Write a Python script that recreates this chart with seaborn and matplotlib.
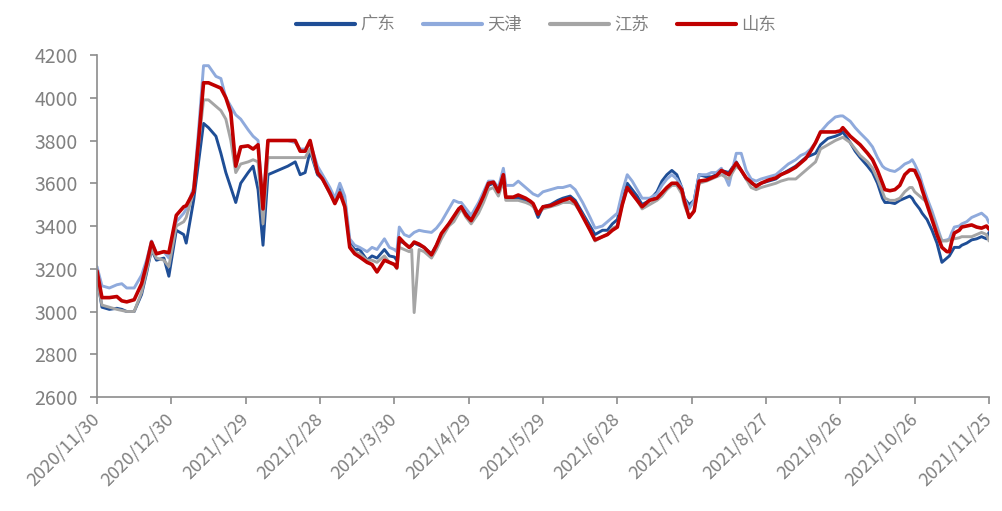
import numpy as np
import pandas as pd
import matplotlib
matplotlib.use("Agg")
import matplotlib.pyplot as plt
import seaborn as sns

# ---------------- data ----------------
start_date = "2020-11-30"
day_offsets = [
    0, 2, 5, 8, 10, 12, 15, 18, 20, 22, 24, 27, 29, 32, 35, 36, 39, 41, 43, 45, 48, 50, 52, 54, 56, 58, 61, 63, 65, 67, 69, 73, 77, 80, 82, 84, 86, 89,
    91, 94, 96, 98, 100, 102, 104, 106, 109, 111, 113, 116, 118, 120, 121, 122, 124, 126, 127, 128, 130,
    132, 135, 137, 139, 142, 144, 146, 147, 149, 151, 154, 156, 158, 160, 162, 164, 165, 168, 170, 173, 175, 176, 178,
    180, 183, 186, 188, 191, 193, 196, 199, 201, 204, 206, 208, 210, 212, 214, 216, 218, 220, 223, 226, 228, 230, 232, 234, 236, 237, 239, 241,
    243, 246, 248, 250, 252, 255, 258, 260, 262, 264, 266, 268, 271, 274, 276, 279, 282, 284, 286, 288, 290, 292, 295, 298, 300, 301,
    304, 306, 308, 311, 313, 315, 317, 318, 320, 322, 324, 326, 328, 329, 330, 332, 333, 335, 337, 339, 341, 343, 344, 345, 346, 348, 349, 351, 353, 355, 357, 359, 360,
]

guangdong = [
    3160, 3020, 3010, 3015, 3010, 3000, 3000, 3080, 3180, 3290, 3240, 3250, 3165, 3380, 3360, 3320, 3520, 3700, 3880, 3860, 3820, 3740, 3650, 3580, 3510, 3600, 3650, 3680, 3570, 3310, 3640, 3660, 3680, 3700, 3640, 3650, 3750, 3640,
    3620, 3560, 3520, 3580, 3520, 3320, 3290, 3290, 3240, 3260, 3250, 3290, 3260, 3255, 3240, 3330, 3320, 3300, 3310, 3320, 3310,
    3300, 3270, 3310, 3360, 3410, 3440, 3480, 3490, 3460, 3430, 3480, 3530, 3590, 3600, 3550, 3630, 3530, 3530, 3530, 3520, 3510, 3500, 3440,
    3490, 3500, 3520, 3530, 3540, 3520, 3460, 3400, 3360, 3380, 3380, 3410, 3430, 3520, 3600, 3570, 3540, 3500, 3520, 3560, 3610, 3640, 3660, 3640, 3580, 3530, 3500, 3520,
    3640, 3630, 3630, 3640, 3660, 3650, 3700, 3660, 3620, 3600, 3590, 3600, 3610, 3620, 3640, 3660, 3680, 3700, 3720, 3730, 3740, 3780, 3810, 3820, 3830, 3840,
    3790, 3750, 3720, 3680, 3650, 3600, 3530, 3510, 3510, 3505, 3520, 3530, 3540, 3530, 3510, 3480, 3460, 3430, 3380, 3320, 3230, 3250, 3260, 3280, 3300, 3300, 3310, 3320, 3335, 3340, 3350, 3340, 3370,
]

tianjin = [
    3210, 3120, 3110, 3125, 3130, 3110, 3110, 3170, 3240, 3330, 3270, 3280, 3250, 3420, 3460, 3480, 3580, 3850, 4150, 4150, 4100, 4090, 4000, 3960, 3920, 3900, 3850, 3820, 3800, 3500, 3800, 3800, 3800, 3790, 3760, 3760, 3790, 3680,
    3640, 3580, 3530, 3600, 3540, 3340, 3310, 3300, 3280, 3300, 3290, 3340, 3300, 3290, 3280, 3395, 3360, 3350, 3360, 3370, 3380,
    3375, 3370, 3390, 3420, 3480, 3520, 3510, 3510, 3480, 3450, 3510, 3560, 3610, 3610, 3580, 3670, 3590, 3590, 3610, 3580, 3560, 3550, 3540,
    3560, 3570, 3580, 3580, 3590, 3570, 3510, 3440, 3390, 3400, 3420, 3440, 3460, 3560, 3640, 3610, 3570, 3530, 3530, 3550, 3590, 3620, 3640, 3620, 3580, 3530, 3480, 3520,
    3640, 3640, 3650, 3650, 3670, 3590, 3740, 3740, 3660, 3620, 3610, 3620, 3630, 3640, 3660, 3690, 3710, 3730, 3740, 3760, 3790, 3840, 3880, 3910, 3915, 3915,
    3890, 3860, 3835, 3800, 3770, 3720, 3680, 3670, 3660, 3655, 3670, 3690, 3700, 3710, 3690, 3640, 3600, 3530, 3470, 3400, 3330, 3335, 3340, 3370, 3395, 3400, 3410, 3420, 3440, 3450, 3460, 3440, 3415,
]

jiangsu = [
    3150, 3030, 3020, 3010, 3005, 3000, 3000, 3090, 3190, 3290, 3250, 3240, 3210, 3400, 3420, 3440, 3560, 3780, 3990, 3990, 3960, 3940, 3900, 3800, 3650, 3690, 3700, 3710, 3700, 3410, 3720, 3720, 3720, 3720, 3720, 3720, 3760, 3650,
    3620, 3550, 3510, 3560, 3500, 3310, 3280, 3270, 3240, 3240, 3230, 3260, 3230, 3220, 3200, 3300, 3290, 3280, 3290, 2995, 3290,
    3280, 3250, 3290, 3340, 3400, 3420, 3460, 3480, 3440, 3410, 3460, 3510, 3570, 3580, 3540, 3610, 3520, 3520, 3520, 3510, 3500, 3490, 3460,
    3480, 3490, 3500, 3510, 3510, 3500, 3450, 3380, 3330, 3350, 3360, 3390, 3400, 3500, 3580, 3550, 3520, 3480, 3500, 3520, 3540, 3570, 3590, 3590, 3550, 3500, 3440, 3470,
    3600, 3610, 3620, 3630, 3640, 3620, 3680, 3660, 3620, 3580, 3570, 3580, 3590, 3600, 3610, 3620, 3620, 3640, 3660, 3680, 3700, 3760, 3780, 3800, 3810, 3815,
    3790, 3760, 3730, 3700, 3670, 3620, 3560, 3530, 3520, 3520, 3530, 3560, 3580, 3580, 3560, 3540, 3530, 3510, 3450, 3380, 3330, 3330, 3335, 3340, 3340, 3345, 3350, 3350, 3350, 3360, 3370, 3360, 3330,
]

shandong = [
    3190, 3065, 3065, 3070, 3050, 3045, 3055, 3130, 3220, 3325, 3270, 3280, 3275, 3450, 3490, 3495, 3560, 3800, 4070, 4070, 4055, 4045, 4000, 3930, 3680, 3770, 3775, 3760, 3780, 3480, 3800, 3800, 3800, 3800, 3750, 3750, 3800, 3650,
    3620, 3555, 3505, 3555, 3490, 3300, 3270, 3255, 3230, 3220, 3185, 3240, 3230, 3220, 3205, 3345, 3320, 3300, 3310, 3325, 3315,
    3300, 3265, 3310, 3365, 3410, 3445, 3480, 3490, 3450, 3425, 3490, 3540, 3600, 3605, 3560, 3640, 3535, 3535, 3545, 3530, 3515, 3505, 3455,
    3490, 3495, 3510, 3520, 3530, 3510, 3445, 3380, 3335, 3350, 3360, 3380, 3395, 3500, 3580, 3550, 3520, 3490, 3520, 3530, 3555, 3580, 3600, 3600, 3570, 3520, 3440, 3470,
    3610, 3615, 3625, 3635, 3660, 3640, 3695, 3660, 3625, 3605, 3585, 3600, 3615, 3625, 3640, 3655, 3675, 3695, 3715, 3750, 3790, 3840, 3840, 3840, 3845, 3860,
    3820, 3800, 3780, 3740, 3710, 3660, 3600, 3570, 3565, 3570, 3590, 3640, 3662, 3662, 3660, 3610, 3570, 3500, 3430, 3360, 3300, 3280, 3280, 3330, 3367, 3380, 3395, 3400, 3405, 3395, 3390, 3400, 3385,
]

regions = ["广东", "天津", "江苏", "山东"]
colors = ["#1F4E96", "#8FAADC", "#A5A5A5", "#C00000"]

tick_labels = ["2020/11/30", "2020/12/30", "2021/1/29", "2021/2/28", "2021/3/30", "2021/4/29",
               "2021/5/29", "2021/6/28", "2021/7/28", "2021/8/27", "2021/9/26", "2021/10/26", "2021/11/25"]
y_ticks = [2600, 2800, 3000, 3200, 3400, 3600, 3800, 4000, 4200]

# ---------------- build frame ----------------
series = {"广东": guangdong, "天津": tianjin, "江苏": jiangsu, "山东": shandong}
dates = pd.Timestamp(start_date) + pd.to_timedelta(day_offsets, unit="D")
frames = []
for name in regions:
    vals = series[name]
    assert len(vals) == len(day_offsets), (name, len(vals), len(day_offsets))
    frames.append(pd.DataFrame({"date": dates, "price": vals, "region": name}))
df = pd.concat(frames, ignore_index=True)

# ---------------- plot ----------------
sns.set_theme(style="white")
plt.rcParams["font.family"] = ["Noto Sans CJK SC", "DejaVu Sans"]

fig = plt.figure(figsize=(10.02, 5.11), dpi=100)
ax = fig.add_axes([97 / 1002, 1 - 397 / 511, 892 / 1002, 342 / 511])

sns.lineplot(data=df, x="date", y="price", hue="region", hue_order=regions,
             palette=dict(zip(regions, colors)), estimator=None, linewidth=2.1, ax=ax)
for line in ax.get_lines():
    if line.get_color().lower() == "#c00000":
        line.set_linewidth(2.6)

tick_dates = [pd.Timestamp(t.replace("/", "-")) for t in tick_labels]
ax.set_xlim(tick_dates[0], tick_dates[-1])
ax.set_xticks(tick_dates)
ax.set_xticklabels(tick_labels, rotation=45, ha="right", va="center", rotation_mode="anchor")
ax.set_ylim(2600, 4200)
ax.set_yticks(y_ticks)
ax.set_yticklabels([str(v) for v in y_ticks])
ax.set_xlabel("")
ax.set_ylabel("")

gray = "#8C8C8C"
for side in ["top", "right"]:
    ax.spines[side].set_visible(False)
for side in ["left", "bottom"]:
    ax.spines[side].set_color(gray)
    ax.spines[side].set_linewidth(1.2)
ax.tick_params(axis="both", which="major", direction="out", length=5, width=1.2,
               color=gray, labelcolor="#808080", left=True, bottom=True)
ax.tick_params(axis="y", labelsize=14, pad=9)
ax.tick_params(axis="x", labelsize=13, pad=9)

leg = ax.legend(loc="upper center", bbox_to_anchor=(536 / 1002, 1.0), bbox_transform=fig.transFigure,
                ncol=4, frameon=False, fontsize=12.5, handlelength=3.4, handletextpad=0.3,
                columnspacing=1.6)
for t in leg.get_texts():
    t.set_color("#808080")
for h in leg.get_lines():
    h.set_linewidth(3)

fig.savefig("out.png", dpi=100)
